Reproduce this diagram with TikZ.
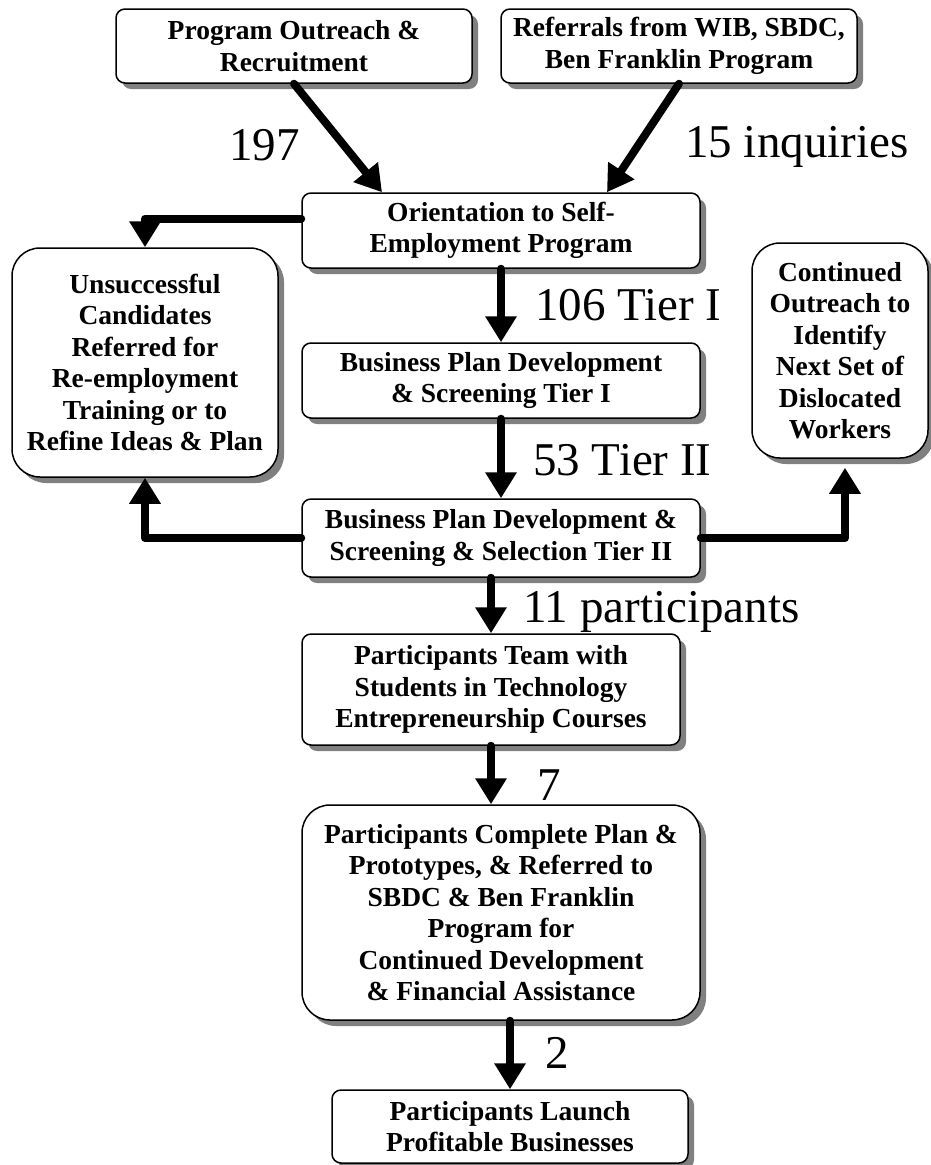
\documentclass[tikz,border=0pt]{standalone}
\usepackage{fontspec}
\setmainfont{Liberation Serif}
\usetikzlibrary{arrows.meta,shadows}
\begin{document}
\begin{tikzpicture}[x=1pt,y=-1pt,
  box/.style={draw=black, line width=1.5pt, fill=white, rounded corners=9pt,
    align=center, inner sep=0pt,
    font=\fontsize{27.5}{31.5}\selectfont\bfseries,
    drop shadow={shadow xshift=6pt, shadow yshift=-6pt, fill=black!50, opacity=1}},
  bigbox/.style={box, rounded corners=28pt},
  arr/.style={line width=8pt, line cap=round, line join=round,
    -{Triangle[width=30pt,length=26pt]}},
  lbl/.style={font=\fontsize{47}{50}\selectfont, inner sep=0pt}
]
\useasboundingbox (0,0) rectangle (930,1165);

\node[box, minimum width=356pt, minimum height=74pt] (b1) at (294,46) {Program Outreach \&\\Recruitment};
\node[box, minimum width=356pt, minimum height=74pt] (b2) at (679,46) {Referrals from WIB, SBDC,\\Ben Franklin Program};
\node[box, minimum width=398pt, minimum height=75pt] (orient) at (501,230.5) {Orientation to Self-\\Employment Program};
\node[box, minimum width=398pt, minimum height=75pt] (tier1) at (501,380.5) {Business Plan Development\\\& Screening Tier I};
\node[box, minimum width=398pt, minimum height=78pt] (tier2) at (501,538) {Business Plan Development \&\\Screening \& Selection Tier II};
\node[box, minimum width=378pt, minimum height=111pt] (team) at (491,689.5) {Participants Team with\\Students in Technology\\Entrepreneurship Courses};
\node[bigbox, minimum width=398pt, minimum height=215pt] (complete) at (501,912.5) {Participants Complete Plan \&\\Prototypes, \& Referred to\\SBDC \& Ben Franklin\\Program for\\Continued Development\\\& Financial Assistance};
\node[box, minimum width=356pt, minimum height=73pt] (launch) at (510,1126.5) {Participants Launch\\Profitable Businesses};
\node[bigbox, minimum width=266pt, minimum height=229pt] (unsucc) at (145,362.5) {Unsuccessful\\Candidates\\Referred for\\Re-employment\\Training or to\\Refine Ideas \& Plan};
\node[bigbox, minimum width=176pt, minimum height=215pt] (cont) at (840,350.5) {Continued\\Outreach to\\Identify\\Next Set of\\Dislocated\\Workers};

\draw[arr] (b1.south) -- ([xshift=-119pt]orient.north);
\draw[arr] (b2.south) -- ([xshift=106pt]orient.north);
\draw[arr] (orient.south) -- (tier1.north);
\draw[arr] (tier1.south) -- (tier2.north);
\draw[arr] (tier2.south -| team.north) -- (team.north);
\draw[arr] (team.south) -- (team.south |- complete.north);
\draw[arr] (complete.south -| launch.north) -- (launch.north);
\draw[arr] ([yshift=12pt]orient.west) -| (unsucc.north);
\draw[arr] (tier2.west) -| (unsucc.south);
\draw[arr, shorten >=9pt] (tier2.east) -| ([xshift=5pt]cont.south);

\node[lbl, anchor=base east] (l197) at (300,160) {197};
\node[lbl, anchor=base west] (l15) at (685,157) {15 inquiries};
\node[lbl, anchor=base west] (l106) at (535,320) {106 Tier I};
\node[lbl, anchor=base west] (l53) at (533,475) {53 Tier II};
\node[lbl, anchor=base west] (l11) at (523,622) {11 participants};
\node[lbl, anchor=base west] (l7) at (537,800) {7};
\node[lbl, anchor=base west] (l2) at (545,1068) {2};
\end{tikzpicture}
\end{document}
